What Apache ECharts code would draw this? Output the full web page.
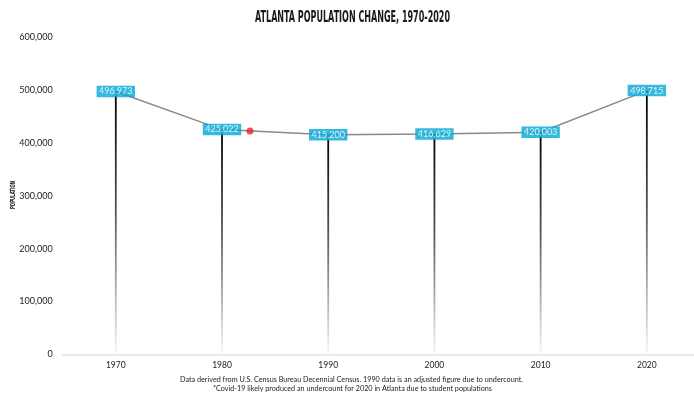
<!DOCTYPE html>
<html><head><meta charset="utf-8">
<script src="https://cdn.jsdelivr.net/npm/echarts@6/dist/echarts.min.js"></script>
<style>html,body{margin:0;padding:0;background:#fff}#c{width:694px;height:396px}</style>
</head><body><div id="c"></div>
<script>
const years = ['1970', '1980', '1990', '2000', '2010', '2020'];
const population = [496973, 425022, 415200, 416629, 420003, 498715];
const yTickValues = [0, 100000, 200000, 300000, 400000, 500000, 600000];
const markerX = [1.263];
const markerValue = [422400];
const titleText = 'ATLANTA POPULATION CHANGE, 1970-2020';
const yName = 'POPULATION';
const footnotes = [
  'Data derived from U.S. Census Bureau Decennial Census. 1990 data is an adjusted figure due to undercount.',
  '*Covid-19 likely produced an undercount for 2020 in Atlanta due to student populations'
];

function fmt(v) { return String(v).replace(/\B(?=(\d{3})+(?!\d))/g, ','); }
function measure(text, font) {
  const ctx = document.createElement('canvas').getContext('2d');
  ctx.font = font; return ctx.measureText(text).width;
}
const titleFont = 'bold 16px "DejaVu Sans Condensed", "DejaVu Sans"';
const nameFont = 'bold 7px "DejaVu Sans Condensed", "DejaVu Sans"';
const noteFont = '7px Lato';
const pts = population.map((v, i) => [i, v]);
const idx = years.map((y, i) => i);

const chart = echarts.init(document.getElementById('c'), null, {renderer: 'canvas'});
chart.setOption({
  animation: false,
  backgroundColor: '#fff',
  grid: {left: 62.7, right: 0, top: 37, bottom: 41.5, containLabel: false},
  xAxis: {
    type: 'value', min: -0.5, max: 5.444,
    splitLine: {show: false},
    axisLine: {lineStyle: {color: '#e4e4e4', width: 1.5}},
    axisTick: {show: false},
    axisLabel: {color: '#222', fontSize: 8.5, fontFamily: 'Lato', margin: 6,
      customValues: idx, formatter: v => years[Math.round(v)]}
  },
  yAxis: {
    type: 'value', min: yTickValues[0], max: yTickValues[yTickValues.length - 1], interval: 100000,
    splitLine: {show: false}, axisLine: {show: false}, axisTick: {show: false},
    axisLabel: {color: '#222', fontSize: 9, fontFamily: 'Lato', margin: 10, formatter: v => fmt(v)}
  },
  series: [{
    type: 'bar', data: pts, barWidth: 1.8, z: 1,
    itemStyle: {color: {type: 'linear', x: 0, y: 0, x2: 0, y2: 1, colorStops: [
      {offset: 0, color: '#000'}, {offset: 0.45, color: '#555'}, {offset: 1, color: '#f8f8f8'}]}}
  }, {
    type: 'line', data: pts, symbol: 'none', z: 2,
    lineStyle: {color: '#8a8a8a', width: 1.5}
  }, {
    type: 'scatter', data: pts, symbolSize: 1, z: 5,
    itemStyle: {color: 'rgba(0,0,0,0)'},
    label: {show: true, position: 'inside', formatter: p => fmt(p.value[1]),
      backgroundColor: '#04a7d6', color: '#fff', fontSize: 9, fontFamily: 'Lato',
      padding: [1, 2.5, 0.5, 2.5], lineHeight: 10}
  }, {
    type: 'scatter', z: 6, symbolSize: 7,
    data: markerX.map((x, i) => [x, markerValue[i]]),
    itemStyle: {color: '#e3232b'}
  }],
  graphic: [{
    type: 'text', x: 352.5, y: 17.8,
    scaleX: 195 / measure(titleText, titleFont),
    style: {text: titleText, font: titleFont, fill: '#1a1a1a', textAlign: 'center', textVerticalAlign: 'middle'}
  }, {
    type: 'text', x: 13, y: 195, rotation: Math.PI / 2,
    scaleX: 28 / measure(yName, nameFont),
    style: {text: yName, font: nameFont, fill: '#222', textAlign: 'center', textVerticalAlign: 'middle'}
  }, {
    type: 'text', x: 351.5, y: 380,
    scaleX: 343 / measure(footnotes[0], noteFont),
    style: {text: footnotes[0], font: noteFont, fill: '#222', textAlign: 'center', textVerticalAlign: 'middle'}
  }, {
    type: 'text', x: 352.5, y: 388.3,
    scaleX: 279 / measure(footnotes[1], noteFont),
    style: {text: footnotes[1], font: noteFont, fill: '#222', textAlign: 'center', textVerticalAlign: 'middle'}
  }]
});
</script>
</body></html>
